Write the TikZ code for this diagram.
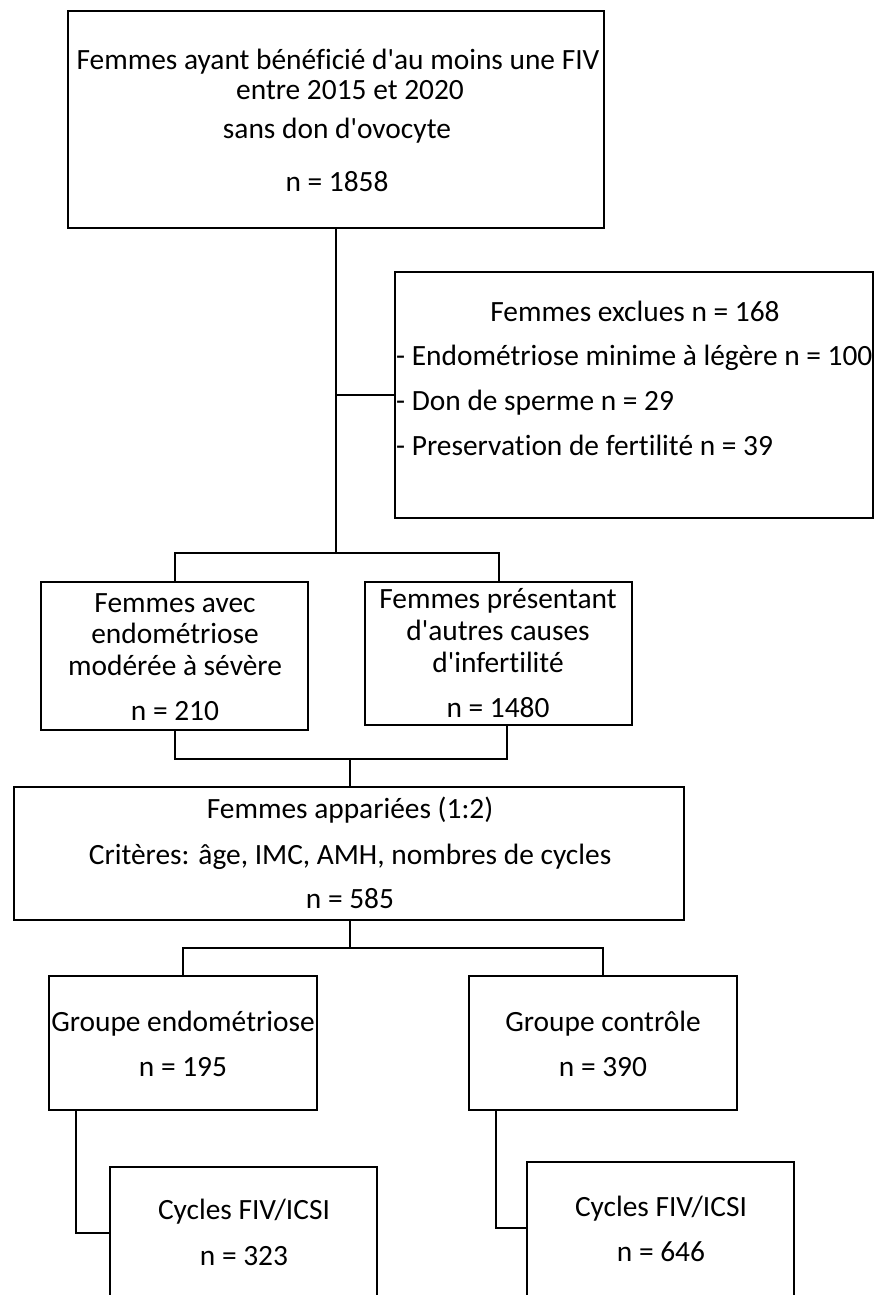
\documentclass[tikz,border=0pt]{standalone}
\usepackage{fontspec}
\setmainfont{Carlito}[Ligatures={NoCommon}]
\newcommand{\apos}{\textquotesingle}
\begin{document}
\begin{tikzpicture}[x=1pt,y=-1pt,
  box/.style={draw, rectangle, line width=2pt, inner sep=0pt},
  lbl/.style={inner sep=0pt, text height=18.6pt, text depth=0pt, font=\fontsize{29.4}{34}\selectfont},
  conn/.style={line width=2pt}]
\useasboundingbox (0,0) rectangle (878,1295);
\clip (-2,-2) rectangle (880,1295);
% boxes
\node[box, minimum width=536pt, minimum height=217pt] (top) at (336,119.5) {};
\node[box, minimum width=478pt, minimum height=246pt] (excl) at (634,395) {};
\node[box, minimum width=267pt, minimum height=148pt] (endo) at (174.5,656) {};
\node[box, minimum width=267pt, minimum height=143pt] (autres) at (498.5,653.5) {};
\node[box, minimum width=670pt, minimum height=133pt] (match) at (349,853.5) {};
\node[box, minimum width=268pt, minimum height=134pt] (gendo) at (183,1043) {};
\node[box, minimum width=268pt, minimum height=134pt] (gctrl) at (603,1043) {};
\node[box, minimum width=267pt, minimum height=160pt] (cyclL) at (243.5,1247) {};
\node[box, minimum width=267pt, minimum height=160pt] (cyclR) at (660.5,1242) {};
% texts
\node[lbl] (t1) at (338,60) {Femmes ayant bénéficié d\apos au moins une FIV};
\node[lbl] (t2) at (350,90) {entre 2015 et 2020};
\node[lbl] (t3) at (337,129) {sans don d\apos ovocyte};
\node[lbl] (t4) at (337,182) {n = 1858};
\node[lbl] (e1) at (635,312) {Femmes exclues n = 168};
\node[lbl, anchor=west] (e2) at (396,356) {- Endométriose minime à légère n = 100};
\node[lbl, anchor=west] (e3) at (396,401) {- Don de sperme n = 29};
\node[lbl, anchor=west] (e4) at (396,446) {- Preservation de fertilité n = 39};
\node[lbl] (a1) at (175,603) {Femmes avec};
\node[lbl] (a2) at (175,634) {endométriose};
\node[lbl] (a3) at (175,666) {modérée à sévère};
\node[lbl] (a4) at (175,711) {n = 210};
\node[lbl] (b1) at (498,599) {Femmes présentant};
\node[lbl] (b2) at (498,631) {d\apos autres causes};
\node[lbl] (b3) at (498,663) {d\apos infertilité};
\node[lbl] (b4) at (498,708) {n = 1480};
\node[lbl] (m1) at (350,809) {Femmes appariées (1:2)};
\node[lbl] (m2) at (350,855) {Critères: âge, IMC, AMH, nombres de cycles};
\node[lbl] (m3) at (350,899) {n = 585};
\node[lbl] (g1) at (183,1022) {Groupe endométriose};
\node[lbl] (g2) at (183,1067) {n = 195};
\node[lbl] (h1) at (603,1022) {Groupe contrôle};
\node[lbl] (h2) at (603,1067) {n = 390};
\node[lbl] (c1) at (244,1210) {Cycles FIV/ICSI};
\node[lbl] (c2) at (244,1256) {n = 323};
\node[lbl] (d1) at (661,1207) {Cycles FIV/ICSI};
\node[lbl] (d2) at (661,1252) {n = 646};
% junction coordinates
\coordinate (s1) at (336,553);
\coordinate (s2) at (350,759);
\coordinate (s3) at (350,948);
\coordinate (kL) at (76,1233);
\coordinate (kR) at (496,1228);
% connectors
\draw[conn] (top.south) -- (s1);
\draw[conn] (top.south |- excl.west) -- (excl.west);
\draw[conn] (endo.north -| 175,0) |- (s1) -| (autres.north);
\draw[conn] (endo.south -| 175,0) |- (s2) -| (507,725);
\draw[conn] (s2) -- (match.north -| s2);
\draw[conn] (match.south -| s3) -- (s3);
\draw[conn] (gendo.north) |- (s3) -| (gctrl.north);
\draw[conn] (gendo.south -| kL) |- (cyclL.west |- kL);
\draw[conn] (gctrl.south -| kR) |- (cyclR.west |- kR);
\end{tikzpicture}
\end{document}
